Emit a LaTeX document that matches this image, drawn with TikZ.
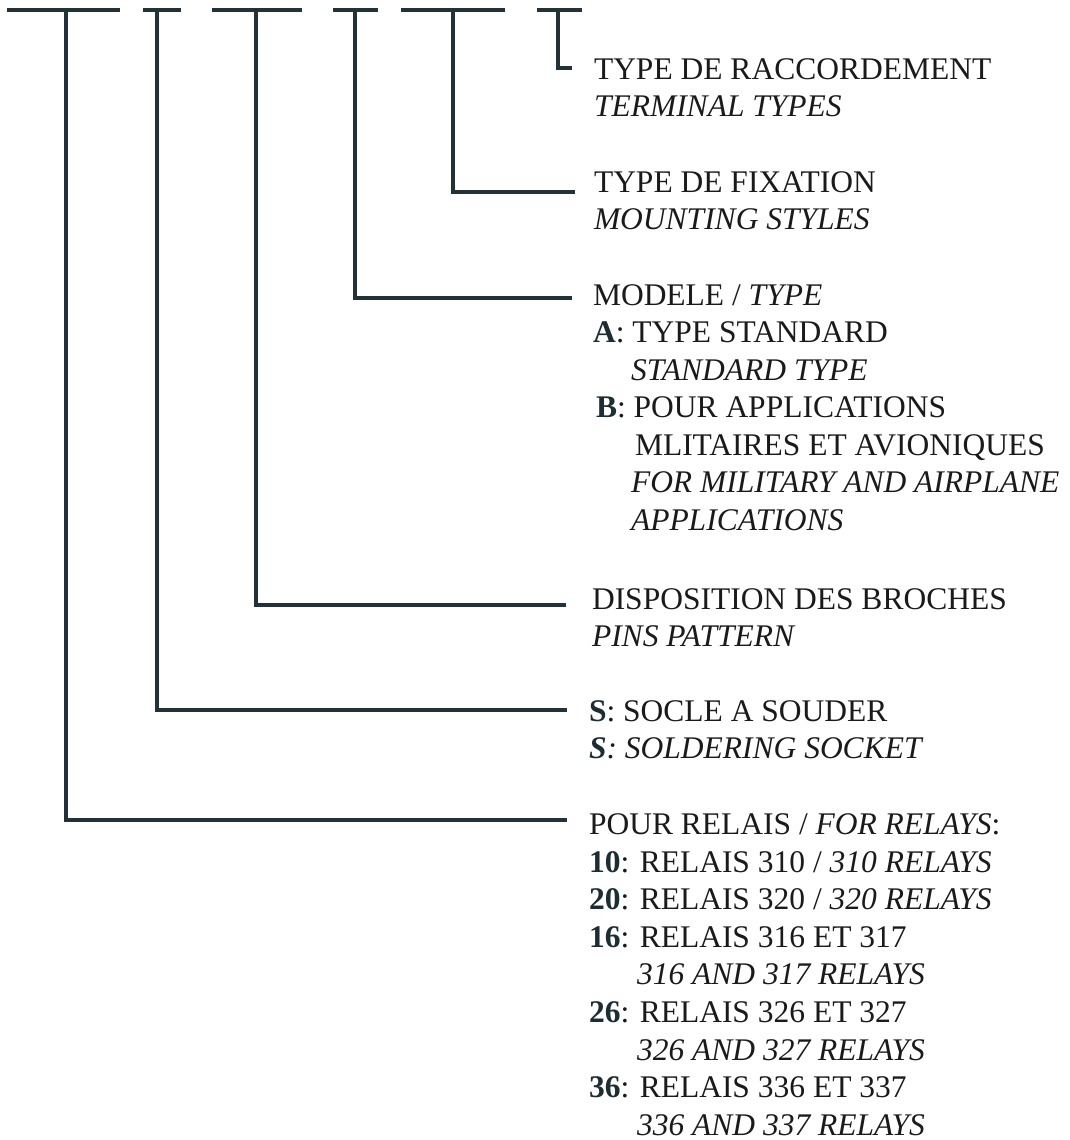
\documentclass[tikz,border=0pt]{standalone}
\usepackage{fontspec}
\setmainfont{Liberation Serif}
\definecolor{wire}{RGB}{35,50,56}
\definecolor{ink}{RGB}{26,26,26}
\definecolor{boldink}{RGB}{28,46,52}
\newcommand{\bk}[1]{\textcolor{boldink}{\textbf{#1}}}
\begin{document}
\begin{tikzpicture}[x=1pt,y=-1pt,
  wireline/.style={draw=wire,line width=4.8pt,line cap=butt,line join=miter},
  lbl/.style={anchor=base west,inner sep=0pt,outer sep=0pt,text=ink,
    font=\fontsize{31.5}{37.5}\selectfont}]
\useasboundingbox (0,0) rectangle (1070,1140);

% top bars
\coordinate (b1l) at (7,10);   \coordinate (b1r) at (120,10); \coordinate (v1) at (66,8);
\coordinate (b2l) at (143,10); \coordinate (b2r) at (181,10); \coordinate (v2) at (157,8);
\coordinate (b3l) at (212,10); \coordinate (b3r) at (302,10); \coordinate (v3) at (256,8);
\coordinate (b4l) at (333,10); \coordinate (b4r) at (378,10); \coordinate (v4) at (355,8);
\coordinate (b5l) at (401,10); \coordinate (b5r) at (505,10); \coordinate (v5) at (453,8);
\coordinate (b6l) at (537,10); \coordinate (b6r) at (582,10); \coordinate (v6) at (558,8);

% connector free ends
\coordinate (e1) at (567,820);
\coordinate (e2) at (567,710);
\coordinate (e3) at (566,605);
\coordinate (e4) at (572,298);
\coordinate (e5) at (575,192);
\coordinate (e6) at (572,68);

\foreach \i in {1,...,6}{\draw[wireline] (b\i l) -- (b\i r);}
\foreach \i in {1,...,6}{\draw[wireline] (v\i) |- (e\i);}

% group 6: terminal types
\node[lbl] (g6a) at (594,79) {TYPE DE RACCORDEMENT};
\node[lbl] (g6b) at (594,116) {\textit{TERMINAL TYPES}};

% group 5: mounting
\node[lbl] (g5a) at (594,192) {TYPE DE FIXATION};
\node[lbl] (g5b) at (594,229) {\textit{MOUNTING STYLES}};

% group 4: model
\node[lbl] (g4a) at (593,305) {MODELE / \textit{TYPE}};
\node[lbl] (g4b) at (593,342) {\bk{A}: TYPE STANDARD};
\node[lbl] (g4c) at (631,380) {\textit{STANDARD TYPE}};
\node[lbl] (g4d) at (596,417) {\bk{B}: POUR APPLICATIONS};
\node[lbl] (g4e) at (635,455) {MLITAIRES ET AVIONIQUES};
\node[lbl] (g4f) at (631,492) {\textit{FOR MILITARY AND AIRPLANE}};
\node[lbl] (g4g) at (631,530) {\textit{APPLICATIONS}};

% group 3: pins
\node[lbl] (g3a) at (592,609) {DISPOSITION DES BROCHES};
\node[lbl] (g3b) at (592,646) {\textit{PINS PATTERN}};

% group 2: socket
\node[lbl] (g2a) at (589,721) {\bk{S}: SOCLE A SOUDER};
\node[lbl] (g2b) at (589,758) {\bk{\textit{S}}\textit{: SOLDERING SOCKET}};

% group 1: relays
\node[lbl] (g1a) at (589,834) {POUR RELAIS / \textit{FOR RELAYS}:};
\node[lbl] (g1b) at (589,872) {\bk{10}: RELAIS 310 / \textit{310 RELAYS}};
\node[lbl] (g1c) at (589,909) {\bk{20}: RELAIS 320 / \textit{320 RELAYS}};
\node[lbl] (g1d) at (589,947) {\bk{16}: RELAIS 316 ET 317};
\node[lbl] (g1e) at (637,984) {\textit{316 AND 317 RELAYS}};
\node[lbl] (g1f) at (589,1022) {\bk{26}: RELAIS 326 ET 327};
\node[lbl] (g1g) at (637,1060) {\textit{326 AND 327 RELAYS}};
\node[lbl] (g1h) at (589,1097) {\bk{36}: RELAIS 336 ET 337};
\node[lbl] (g1i) at (637,1135) {\textit{336 AND 337 RELAYS}};
\end{tikzpicture}
\end{document}
